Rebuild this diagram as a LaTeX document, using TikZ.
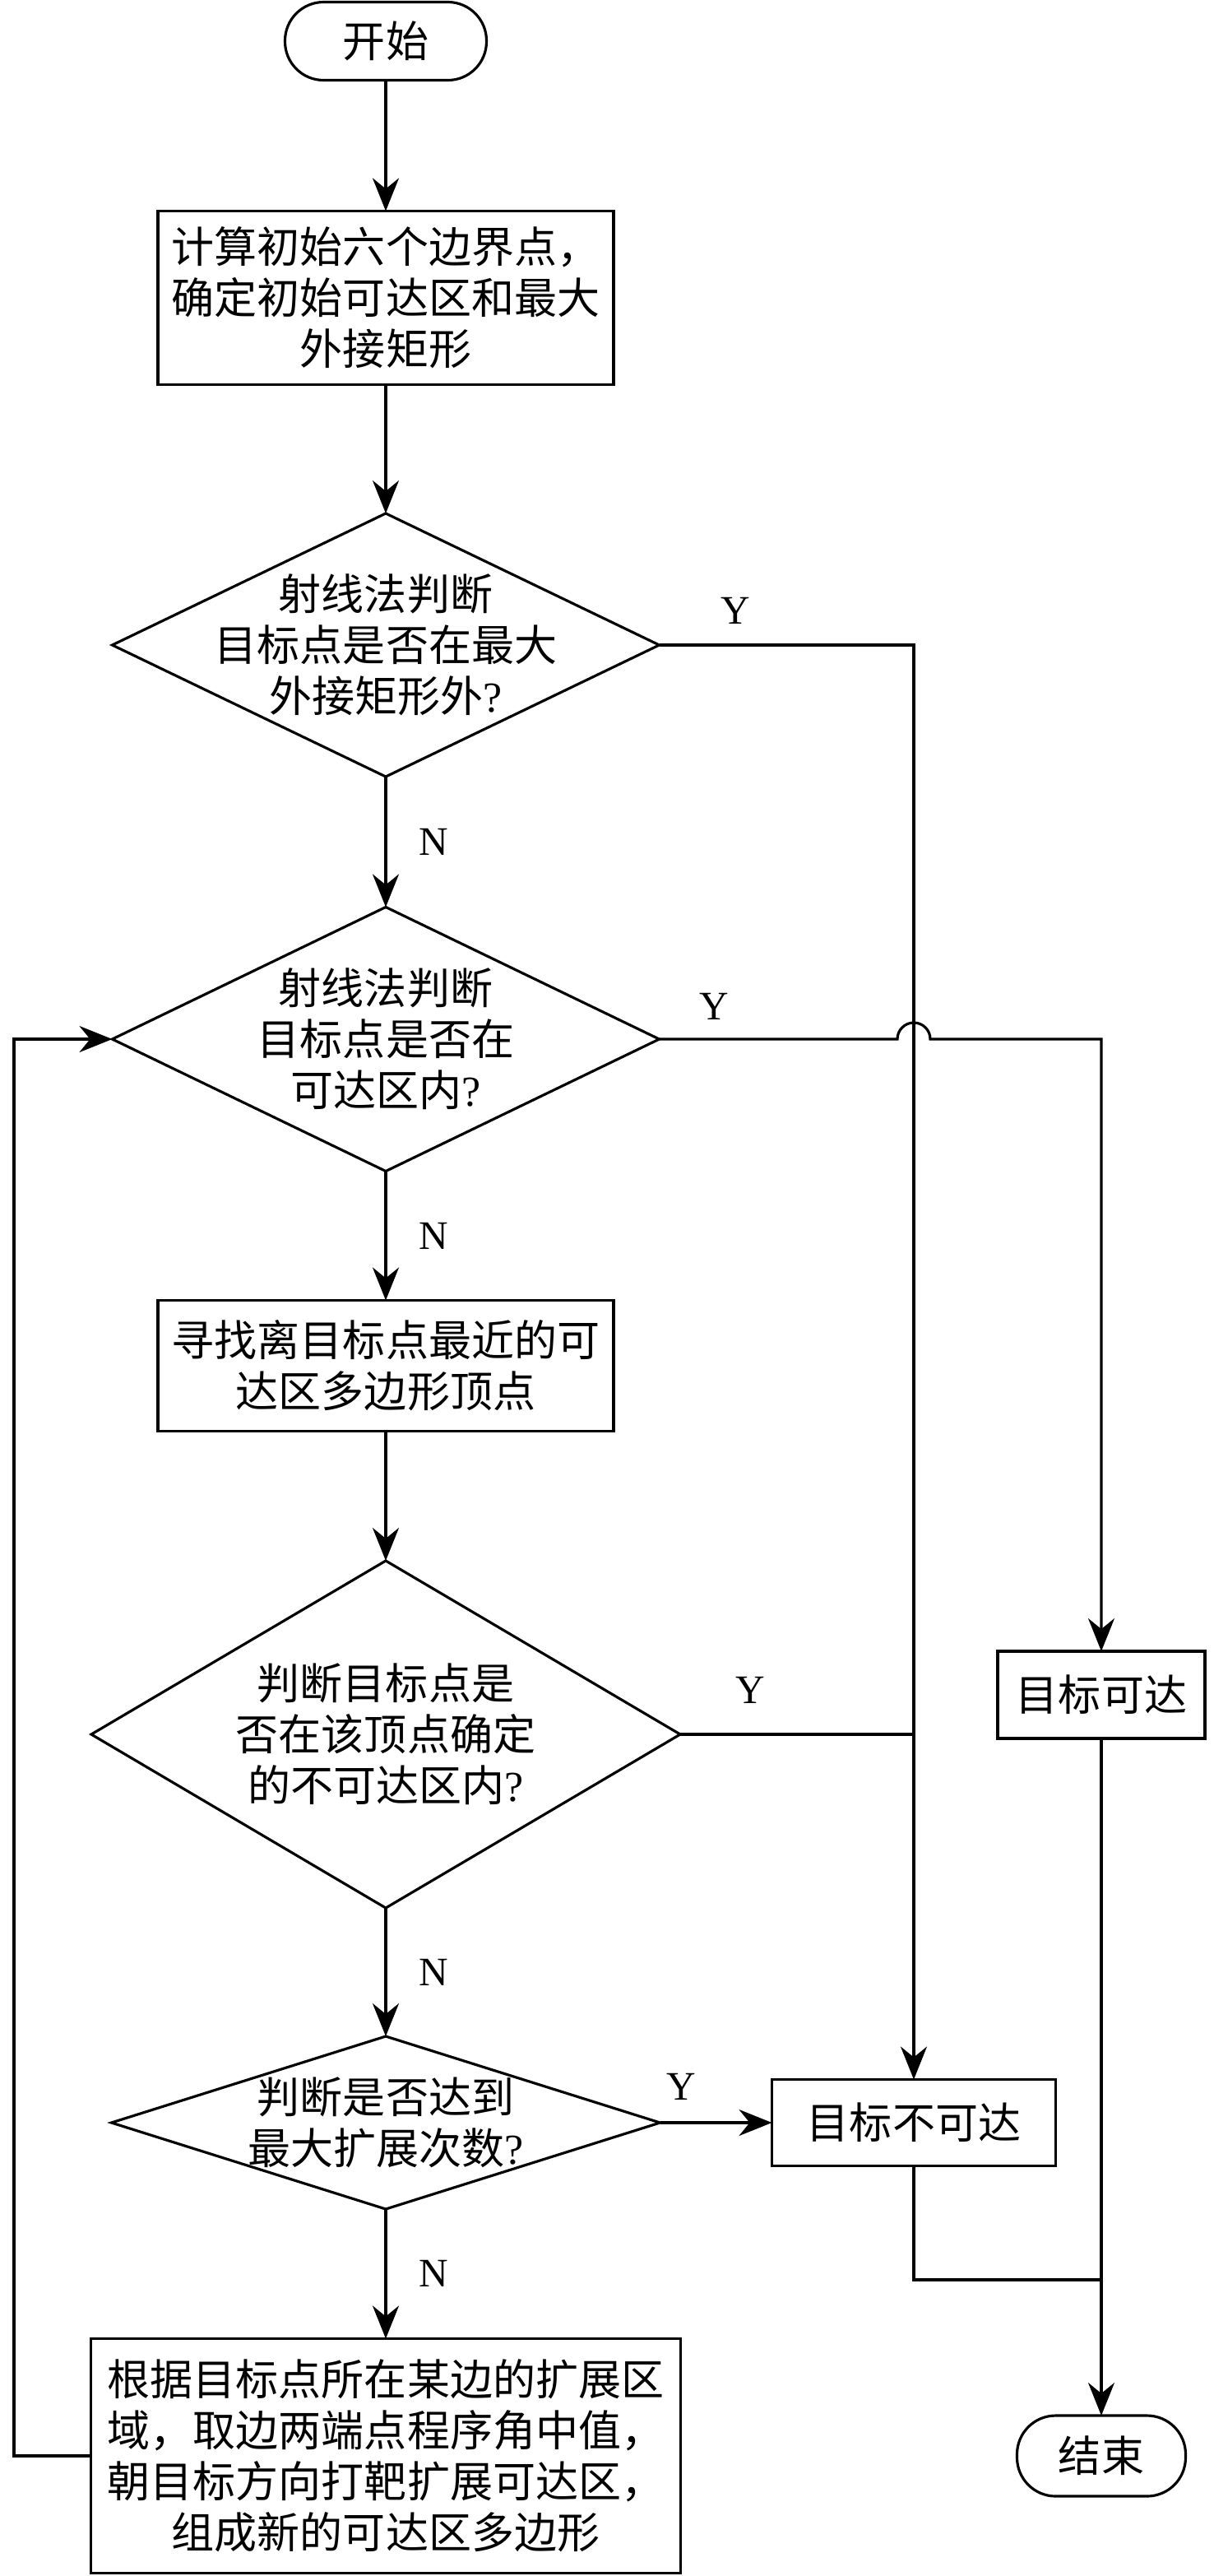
\documentclass[tikz,border=0pt]{standalone}
\usepackage{fontspec}
\setmainfont{Liberation Serif}
\newfontfamily\cjk{Noto Sans CJK SC}
\usepackage{tikz}
\usetikzlibrary{arrows.meta,shapes.geometric}
\tikzset{
    procnode/.style = {
        align=center,
        rectangle,
        draw=black,
        line width=0.9pt,
        font=\cjk\fontsize{14.8pt}{17.6pt}\selectfont,
        inner sep=1mm,
        outer sep=0mm
    },
    termnode/.style = {
        procnode,
        rounded corners=4.7mm
    },
    decisionnode/.style = {
        diamond,
        draw=black,
        line width=0.9pt,
        inner sep=0pt,
        outer sep=0mm
    },
    decisiontext/.style = {
        align=center,
        font=\cjk\fontsize{14.8pt}{17.6pt}\selectfont,
        inner sep=0pt
    },
    yesno/.style = {
        font=\fontsize{14pt}{14pt}\selectfont,
        inner sep=0pt
    },
    flow/.style = {
        line width=0.9pt,
        -{Stealth[length=4mm, width=3.2mm, inset=1.3mm]}
    },
    joinline/.style = {
        line width=0.9pt
    }
}

\begin{document}
\begin{tikzpicture}
    \useasboundingbox (0,0) rectangle (14.76,-31.31);
    % main column
    \node [termnode, minimum width=2.45cm, minimum height=0.95cm] (start) at (4.69,-0.50) {开始};
    \node [procnode, minimum width=5.54cm, minimum height=2.11cm] (init) at (4.69,-3.62) {计算初始六个边界点，\\确定初始可达区和最大\\外接矩形};
    \node [decisionnode, minimum width=6.65cm, minimum height=3.20cm] (outer) at (4.69,-7.84) {};
    \node [decisiontext] (outertext) at (outer) {射线法判断\\目标点是否在最大\\外接矩形外\textrm{?}};
    \node [decisionnode, minimum width=6.65cm, minimum height=3.21cm] (inside) at (4.69,-12.63) {};
    \node [decisiontext] (insidetext) at (inside) {射线法判断\\目标点是否在\\可达区内\textrm{?}};
    \node [procnode, minimum width=5.54cm, minimum height=1.59cm] (nearest) at (4.69,-16.60) {寻找离目标点最近的可\\达区多边形顶点};
    \node [decisionnode, minimum width=7.16cm, minimum height=4.22cm] (blocked) at (4.69,-21.08) {};
    \node [decisiontext] (blockedtext) at (blocked) {判断目标点是\\否在该顶点确定\\的不可达区内\textrm{?}};
    \node [decisionnode, minimum width=6.67cm, minimum height=2.10cm] (limit) at (4.69,-25.80) {};
    \node [decisiontext] (limittext) at (limit) {判断是否达到\\最大扩展次数\textrm{?}};
    \node [procnode, minimum width=7.17cm, minimum height=2.85cm] (expand) at (4.69,-29.85) {根据目标点所在某边的扩展区\\域，取边两端点程序角中值，\\朝目标方向打靶扩展可达区，\\组成新的可达区多边形};
    % right column
    \node [procnode, minimum width=2.52cm, minimum height=1.06cm] (reach) at (13.39,-20.60) {目标可达};
    \node [procnode, minimum width=3.45cm, minimum height=1.05cm] (unreach) at (11.11,-25.80) {目标不可达};
    \node [termnode, minimum width=2.05cm, minimum height=0.98cm] (stop) at (13.39,-29.85) {结束};

    \coordinate (jump) at (inside.east -| unreach.north);
    \coordinate (merge) at (13.39,-27.71);
    \coordinate (loopcorner) at (0.17,-29.85);

    \draw [flow] (start) -- (init);
    \draw [flow] (init) -- (outer);
    \draw [flow] (outer) -- node [yesno, right=3.9mm] {N} (inside);
    \draw [flow] (inside) -- node [yesno, right=3.9mm] {N} (nearest);
    \draw [flow] (nearest) -- (blocked);
    \draw [flow] (blocked) -- node [yesno, right=3.9mm] {N} (limit);
    \draw [flow] (limit) -- node [yesno, right=3.9mm] {N} (expand);
    \draw [flow] (expand.west) -- (loopcorner) |- (inside.west);

    \draw [flow] (outer.east) -- node [yesno, pos=0.30, above=2.4mm] {Y} (outer.east -| unreach.north) -- (unreach.north);
    \draw [flow] (inside.east) -- node [yesno, pos=0.23, above=2.2mm] {Y} ([xshift=-2mm]jump) arc [start angle=180, end angle=0, radius=2mm] -- (inside.east -| reach.north) -- (reach.north);
    \draw [joinline] (blocked.east) -- node [yesno, pos=0.30, above=3.6mm] {Y} (blocked.east -| unreach.north);
    \draw [flow] (limit.east) -- node [yesno, pos=0.19, above=2.6mm] {Y} (unreach.west);

    \draw [joinline] (unreach.south) |- (merge);
    \draw [flow] (reach.south) -- (stop.north);
\end{tikzpicture}
\end{document}
